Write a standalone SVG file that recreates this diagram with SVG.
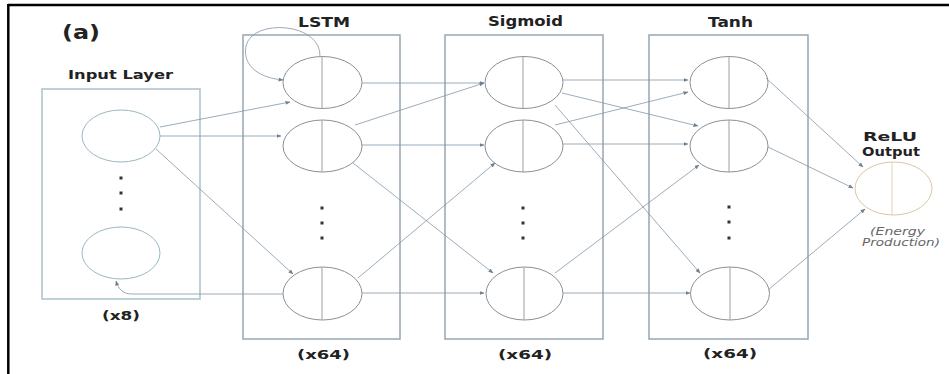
<svg xmlns="http://www.w3.org/2000/svg" width="949" height="374" viewBox="0 0 949 374">
<defs>
<marker id="ah" viewBox="0 0 10 10" refX="9" refY="5" markerWidth="5" markerHeight="5" markerUnits="userSpaceOnUse" orient="auto">
<path d="M0,1 L10,5 L0,9 z" fill="#6f8090"/>
</marker>
<style>
.box{fill:none;stroke:#97a6b3;stroke-width:1.5}
.ibox{fill:none;stroke:#a9c2c9;stroke-width:1.5}
.c{fill:#fff;stroke:#8b8f94;stroke-width:1}
.ic{fill:#fff;stroke:#9bb9c2;stroke-width:1}
.rc{fill:#fff;stroke:#dcc6a6;stroke-width:1}
.v{stroke:#9aa0a6;stroke-width:1}
.rv{stroke:#e3d2bb;stroke-width:1}
.dot{fill:#333}
.t{font-family:"DejaVu Sans",Verdana,sans-serif;font-weight:bold;fill:#222;text-anchor:middle}
.it{font-family:"DejaVu Sans",Verdana,sans-serif;font-style:italic;fill:#666;text-anchor:middle;font-size:10px}
.ln{fill:none;stroke:#8497a8;stroke-width:0.8;marker-end:url(#ah)}
</style>
</defs>
<rect width="949" height="374" fill="#fff"/>
<line x1="8" y1="5" x2="949" y2="5" stroke="#000" stroke-width="2.5"/>
<line x1="8.3" y1="4" x2="8.3" y2="374" stroke="#000" stroke-width="2.5"/>
<text class="t" x="81" y="39" font-size="19" textLength="38" lengthAdjust="spacingAndGlyphs">(a)</text>

<g id="input-layer">
<text class="t" x="120.5" y="79" font-size="12" textLength="105" lengthAdjust="spacingAndGlyphs">Input Layer</text>
<rect class="ibox" x="42" y="89" width="158" height="210"/>
<g id="in1"><ellipse class="ic" cx="121" cy="136" rx="39" ry="26"/></g>
<rect class="dot" x="119.5" y="176.5" width="3" height="3"/>
<rect class="dot" x="119.5" y="191.5" width="3" height="3"/>
<rect class="dot" x="119.5" y="207.5" width="3" height="3"/>
<g id="in8"><ellipse class="ic" cx="121" cy="253" rx="39" ry="26"/></g>
<text class="t" x="121" y="320" font-size="12" textLength="38" lengthAdjust="spacingAndGlyphs">(x8)</text>
</g>

<g id="lstm-layer">
<text class="t" x="324" y="27" font-size="14" textLength="52" lengthAdjust="spacingAndGlyphs">LSTM</text>
<rect class="box" x="243" y="35" width="157" height="304"/>
<g id="lstm1"><ellipse class="c" cx="322.5" cy="82.5" rx="39.5" ry="26"/><line class="v" x1="322" y1="56" x2="322" y2="109"/></g>
<g id="lstm2"><ellipse class="c" cx="322.5" cy="146" rx="39.5" ry="26"/><line class="v" x1="322" y1="120" x2="322" y2="172"/></g>
<rect class="dot" x="320.5" y="206.5" width="3" height="3"/>
<rect class="dot" x="320.5" y="221.5" width="3" height="3"/>
<rect class="dot" x="320.5" y="236.5" width="3" height="3"/>
<g id="lstm64"><ellipse class="c" cx="322.5" cy="293.5" rx="39.5" ry="26.5"/><line class="v" x1="322" y1="267" x2="322" y2="320"/></g>
<text class="t" x="323.5" y="359" font-size="13" textLength="53" lengthAdjust="spacingAndGlyphs">(x64)</text>
</g>

<g id="sigmoid-layer">
<text class="t" x="525.5" y="26" font-size="14" textLength="75" lengthAdjust="spacingAndGlyphs">Sigmoid</text>
<rect class="box" x="445" y="35" width="158" height="304"/>
<g id="sig1"><ellipse class="c" cx="524" cy="82.5" rx="39" ry="26"/><line class="v" x1="523" y1="56" x2="523" y2="109"/></g>
<g id="sig2"><ellipse class="c" cx="524" cy="146" rx="39" ry="26"/><line class="v" x1="523" y1="120" x2="523" y2="172"/></g>
<rect class="dot" x="521.5" y="206.5" width="3" height="3"/>
<rect class="dot" x="521.5" y="221.5" width="3" height="3"/>
<rect class="dot" x="521.5" y="236.5" width="3" height="3"/>
<g id="sig64"><ellipse class="c" cx="524.5" cy="293.5" rx="38.5" ry="26.5"/><line class="v" x1="524" y1="267" x2="524" y2="320"/></g>
<text class="t" x="525" y="359" font-size="13" textLength="54" lengthAdjust="spacingAndGlyphs">(x64)</text>
</g>

<g id="tanh-layer">
<text class="t" x="730.5" y="27" font-size="14" textLength="45" lengthAdjust="spacingAndGlyphs">Tanh</text>
<rect class="box" x="649" y="35" width="159" height="304"/>
<g id="tanh1"><ellipse class="c" cx="729" cy="82.5" rx="39" ry="26"/><line class="v" x1="729" y1="56" x2="729" y2="109"/></g>
<g id="tanh2"><ellipse class="c" cx="729" cy="146" rx="39" ry="26"/><line class="v" x1="729" y1="120" x2="729" y2="172"/></g>
<rect class="dot" x="727.5" y="205.5" width="3" height="3"/>
<rect class="dot" x="727.5" y="220.5" width="3" height="3"/>
<rect class="dot" x="727.5" y="236.5" width="3" height="3"/>
<g id="tanh64"><ellipse class="c" cx="730" cy="293.5" rx="39.5" ry="26.5"/><line class="v" x1="730" y1="267" x2="730" y2="320"/></g>
<text class="t" x="730" y="358" font-size="13" textLength="54" lengthAdjust="spacingAndGlyphs">(x64)</text>
</g>

<g id="relu-output">
<text class="t" x="890" y="141" font-size="12" textLength="54" lengthAdjust="spacingAndGlyphs">ReLU</text>
<text class="t" x="891" y="156" font-size="12" textLength="58" lengthAdjust="spacingAndGlyphs">Output</text>
<ellipse class="rc" cx="893.5" cy="188.5" rx="38.5" ry="26.5"/>
<line class="rv" x1="892" y1="162" x2="892" y2="215"/>
<text class="it" x="897.5" y="235" textLength="55" lengthAdjust="spacingAndGlyphs">(Energy</text>
<text class="it" x="901" y="246" textLength="78" lengthAdjust="spacingAndGlyphs">Production)</text>
</g>

<g id="connectors">
<path class="ln" d="M160,127 L290,102"/>
<path class="ln" d="M160,136 L281,136"/>
<path class="ln" d="M156,149 L293,274"/>
<path class="ln" d="M283,294 L132,294 C122,294 118,288 116,281"/>
<path class="ln" d="M320,57 C322,22 252,18 246,46 C242,68 262,78 283,80"/>
<path class="ln" d="M362,83 L484,83"/>
<path class="ln" d="M355,125 L484,83"/>
<path class="ln" d="M362,145 L484,145"/>
<path class="ln" d="M353,163 L493,273"/>
<path class="ln" d="M358,278 L495,163"/>
<path class="ln" d="M362,293 L484,293"/>
<path class="ln" d="M563,80 L688,80"/>
<path class="ln" d="M562,93 L698,126"/>
<path class="ln" d="M555,105 L700,273"/>
<path class="ln" d="M555,125 L688,92"/>
<path class="ln" d="M563,144 L688,144"/>
<path class="ln" d="M555,273 L699,165"/>
<path class="ln" d="M563,293 L690,293"/>
<path class="ln" d="M766,78 L863,167"/>
<path class="ln" d="M768,147 L853,188"/>
<path class="ln" d="M768,290 L865,209"/>
</g>
</svg>
